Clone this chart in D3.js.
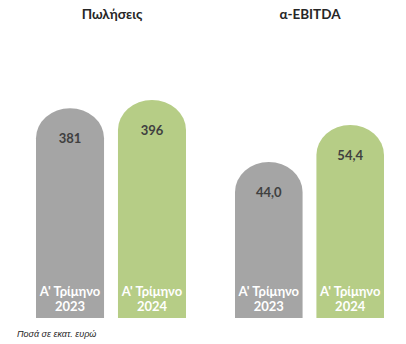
<!DOCTYPE html>
<html>
<head>
<meta charset="utf-8">
<script src="https://cdn.jsdelivr.net/npm/d3@7"></script>
<style>
html,body{margin:0;padding:0;background:#fff;}
svg{display:block;}
</style>
</head>
<body>
<svg id="chart" width="406" height="344"></svg>
<script>
const categories = ["Α' Τρίμηνο 2023", "Α' Τρίμηνο 2024"];
const catLine1 = ["Α' Τρίμηνο", "Α' Τρίμηνο"];
const catLine2 = ["2023", "2024"];
const salesValues = [381, 396];
const salesLabels = ["381", "396"];
const ebitdaValues = [44.0, 54.4];
const ebitdaLabels = ["44,0", "54,4"];
const panelTitles = ["Πωλήσεις", "α-EBITDA"];
const footnote = "Ποσά σε εκατ. ευρώ";
const colors = ["#a5a5a5", "#b6cd86"];

const svg = d3.select("#chart");
const font = "Lato, 'Open Sans', sans-serif";
const bottom = 318;

const panels = [
  {title: panelTitles[0], values: salesValues, labels: salesLabels, x0: 36, x1: 186, yMax: 396, yTop: 100, titleX: 112},
  {title: panelTitles[1], values: ebitdaValues, labels: ebitdaLabels, x0: 235, x1: 384, yMax: 54.4, yTop: 125, titleX: 310}
];

panels.forEach(p => {
  const x = d3.scaleBand().domain(categories).range([p.x0, p.x1]).paddingInner(0.17).paddingOuter(0);
  const y = d3.scaleLinear().domain([0, p.yMax]).range([bottom, p.yTop]);
  const g = svg.append("g");
  const w = x.bandwidth();
  const rx = w / 2, ry = 30;

  g.append("text").attr("x", p.titleX).attr("y", 19).attr("text-anchor", "middle")
    .attr("font-family", font).attr("font-weight", "bold").attr("font-size", 13.5)
    .attr("fill", "#262626").text(p.title);

  categories.forEach((c, i) => {
    const bx = x(c), top = y(p.values[i]);
    const path = `M${bx},${bottom} V${top + ry} A${rx},${ry} 0 0 1 ${bx + w},${top + ry} V${bottom} Z`;
    g.append("path").attr("d", path).attr("fill", colors[i]);
    g.append("text").attr("x", bx + w / 2).attr("y", top + 35).attr("text-anchor", "middle")
      .attr("font-family", font).attr("font-weight", "bold").attr("font-size", 13)
      .attr("fill", "#404040").text(p.labels[i]);
    g.append("text").attr("x", bx + w / 2).attr("y", 296).attr("text-anchor", "middle")
      .attr("font-family", font).attr("font-weight", "bold").attr("font-size", 13)
      .attr("fill", "#ffffff").text(catLine1[i]);
    g.append("text").attr("x", bx + w / 2).attr("y", 311).attr("text-anchor", "middle")
      .attr("font-family", font).attr("font-weight", "bold").attr("font-size", 13)
      .attr("fill", "#ffffff").text(catLine2[i]);
  });
});

svg.append("text").attr("x", 17).attr("y", 337)
  .attr("font-family", "'Liberation Sans', Arial, sans-serif").attr("font-style", "italic")
  .attr("font-size", 9).attr("fill", "#262626").text(footnote);
</script>
</body>
</html>
